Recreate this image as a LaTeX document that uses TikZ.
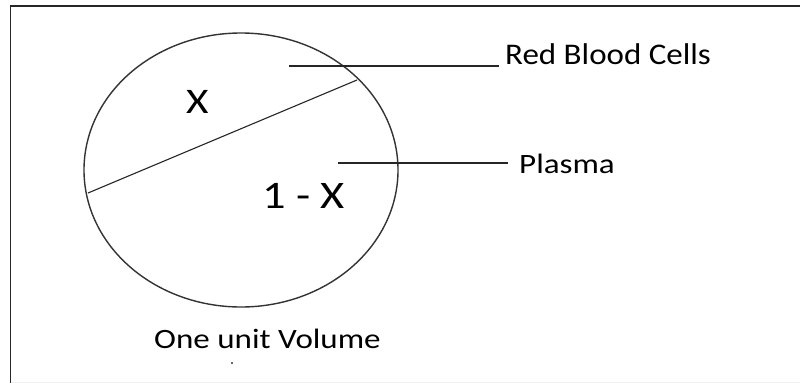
\documentclass[tikz,border=0pt]{standalone}
\usepackage{fontspec}
\usepackage{graphicx}
\setmainfont{Carlito}
\usetikzlibrary{shapes.geometric}
\newcommand{\wide}[2]{\scalebox{#1}[1]{#2}}
\begin{document}
\begin{tikzpicture}[x=1pt,y=-1pt,
  lbl/.style={inner sep=0pt,anchor=base west,text=black},
  thin line/.style={draw=black!85,line width=1.1pt},
  outline/.style={draw=black!80,line width=1.4pt}]
\useasboundingbox (0,0) rectangle (800,383);
\fill[white] (0,0) rectangle (800,383);
% frame
\draw[black!85,line width=1.6pt] (800,6) -- (10.5,6) -- (10.5,383);
\draw[black!6,line width=1pt] (10.5,382) -- (800,382);
% circle
\node[ellipse,outline,minimum width=314pt,minimum height=274pt,inner sep=0pt] (cell) at (241,170) {};
\coordinate (d1) at (88,193);
\coordinate (d2) at (357,80);
\draw[thin line] (d1) -- (d2);
% labels
\node[lbl,font=\fontsize{36}{38}\selectfont] (x) at (186,113) {\wide{1.2}{X}};
\node[lbl,font=\fontsize{39}{41}\selectfont] (onex) at (262,208.5) {\wide{1.19}{1 - X}};
\node[lbl,font=\fontsize{30}{32}\selectfont] (rbc) at (505,64) {\wide{1.1}{Red Blood Cells}};
\node[lbl,font=\fontsize{28}{30}\selectfont] (pl) at (519,173) {\wide{1.18}{Plasma}};
\node[lbl,font=\fontsize{28}{30}\selectfont] (vol) at (154,348) {\wide{1.18}{One unit Volume}};
\fill[black!80] (232,363) circle (1.2);
% leaders
\coordinate (r0) at (289,66);
\coordinate (p0) at (338,163);
\draw[thin line] (r0) -- (499,66);
\draw[thin line] (p0) -- (508,163);
\end{tikzpicture}
\end{document}
